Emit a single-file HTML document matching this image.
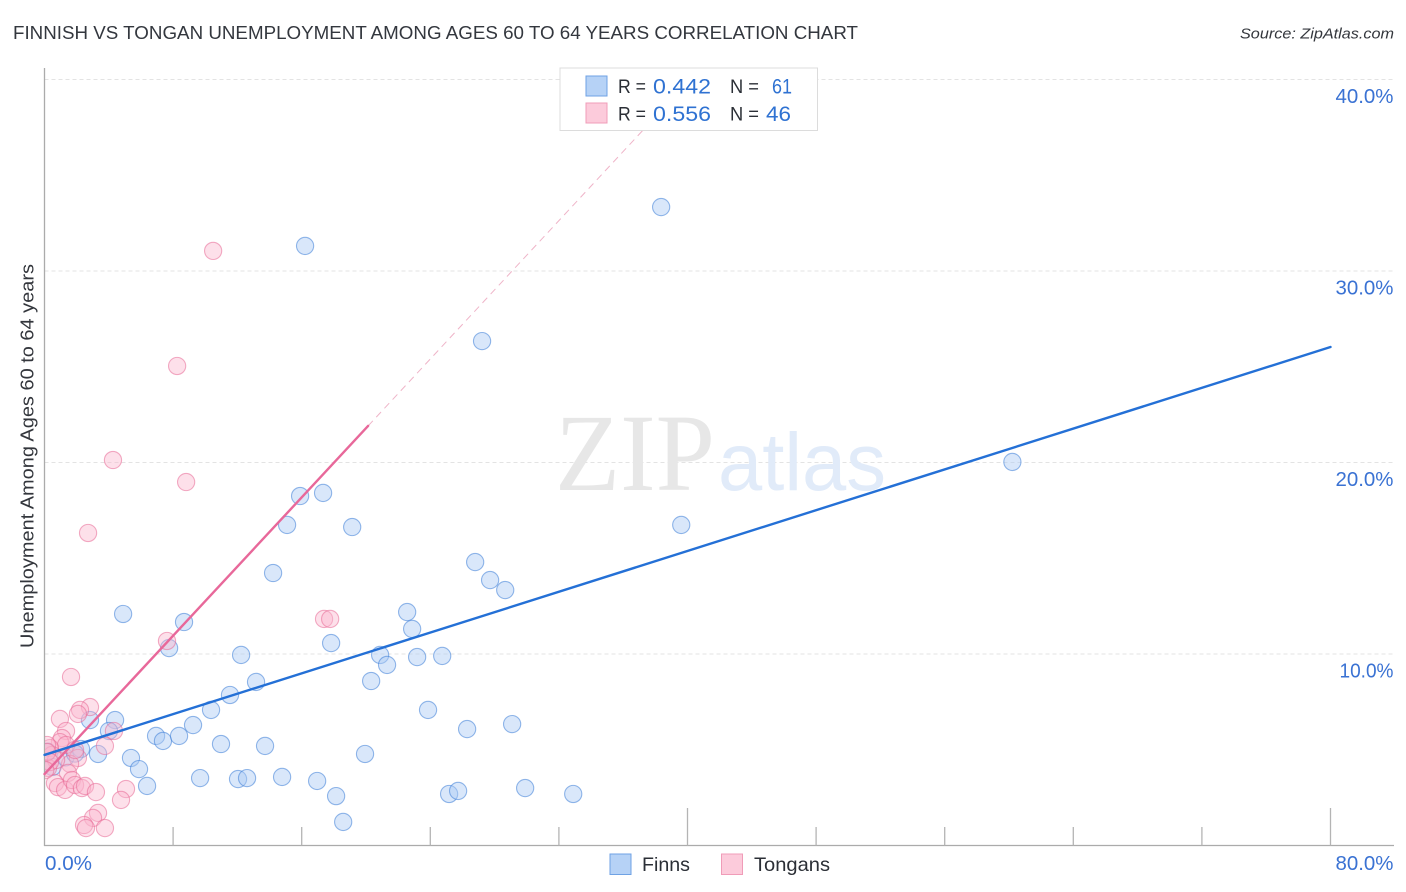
<!DOCTYPE html>
<html>
<head>
<meta charset="utf-8">
<style>
html,body{margin:0;padding:0;background:#fff;width:1406px;height:892px;overflow:hidden}
svg{display:block;font-family:"Liberation Sans",sans-serif}
</style>
</head>
<body>
<svg id="chart" width="1406" height="892" viewBox="0 0 1406 892" xmlns="http://www.w3.org/2000/svg">
  <defs><clipPath id="plot-clip"><rect x="45" y="68" width="1349" height="777"/></clipPath></defs>
  <rect x="0" y="0" width="1406" height="892" fill="#fff"/>
  <text x="13" y="39" font-size="18.5" fill="#33373e" textLength="845" lengthAdjust="spacingAndGlyphs">FINNISH VS TONGAN UNEMPLOYMENT AMONG AGES 60 TO 64 YEARS CORRELATION CHART</text>
  <text x="1394" y="38.500" font-size="15" font-style="italic" fill="#33363c" text-anchor="end" textLength="154" lengthAdjust="spacingAndGlyphs">Source: ZipAtlas.com</text>
  <g id="grid"></g>
  <g>
    <text x="555" y="490" font-family="'Liberation Serif',serif" font-size="110" fill="#e7e7e7" textLength="160" lengthAdjust="spacingAndGlyphs">ZIP</text>
    <text x="718" y="490" font-size="82" fill="#e1ebf9" textLength="168" lengthAdjust="spacingAndGlyphs">atlas</text>
  </g>
  <g id="axes"></g>
  <g id="pointsFinns" clip-path="url(#plot-clip)"></g>
  <g id="pointsTongans" clip-path="url(#plot-clip)"></g>
  <g id="trends"></g>
  <g id="ticklabels"></g>
  <text transform="translate(33.500,456) rotate(-90)" font-size="18.500" fill="#33363c" text-anchor="middle" textLength="384" lengthAdjust="spacingAndGlyphs">Unemployment Among Ages 60 to 64 years</text>

  <g>
    <rect x="560" y="68" width="257.500" height="62.500" fill="#fff" stroke="#dcdcdc" stroke-width="1"/>
    <rect x="586" y="76" width="21" height="20" fill="#b6d2f6" stroke="#6fa2e4" stroke-width="1"/>
    <rect x="586" y="103" width="21" height="20" fill="#fccbdb" stroke="#f09cb8" stroke-width="1"/>
    <text x="618" y="93" font-size="19" fill="#2b2f36" textLength="28" lengthAdjust="spacingAndGlyphs">R =</text>
    <text x="653" y="93.500" font-size="21.500" fill="#2f72d2" textLength="58" lengthAdjust="spacingAndGlyphs">0.442</text>
    <text x="730" y="93" font-size="19" fill="#2b2f36" textLength="29" lengthAdjust="spacingAndGlyphs">N =</text>
    <text x="772" y="93.500" font-size="21.500" fill="#2f72d2" textLength="20" lengthAdjust="spacingAndGlyphs">61</text>
    <text x="618" y="120.500" font-size="19" fill="#2b2f36" textLength="28" lengthAdjust="spacingAndGlyphs">R =</text>
    <text x="653" y="121" font-size="21.500" fill="#2f72d2" textLength="58" lengthAdjust="spacingAndGlyphs">0.556</text>
    <text x="730" y="120.500" font-size="19" fill="#2b2f36" textLength="29" lengthAdjust="spacingAndGlyphs">N =</text>
    <text x="766" y="121" font-size="21.500" fill="#2f72d2" textLength="25" lengthAdjust="spacingAndGlyphs">46</text>
  </g>

  <g>
    <rect x="610" y="854" width="21" height="20.500" fill="#b6d2f6" stroke="#6fa2e4" stroke-width="1"/>
    <text x="642" y="871" font-size="19.500" fill="#2b2f36" textLength="48" lengthAdjust="spacingAndGlyphs">Finns</text>
    <rect x="721.500" y="854" width="21" height="20.500" fill="#fccbdb" stroke="#f09cb8" stroke-width="1"/>
    <text x="754" y="871" font-size="19.500" fill="#2b2f36" textLength="76" lengthAdjust="spacingAndGlyphs">Tongans</text>
  </g>
</svg>
<script>
const finnsX = [38.36,16.21,27.22,60.21,39.61,15.90,17.33,15.09,19.14,14.22,26.79,27.72,28.66,4.89,22.56,22.87,8.68,17.83,7.75,12.23,20.88,21.31,23.18,24.74,13.16,20.32,11.54,10.36,23.86,29.09,26.29,9.24,2.83,4.39,4.01,6.94,7.37,8.37,10.98,13.72,19.94,2.27,3.33,5.38,5.88,6.38,9.68,12.04,12.60,14.78,16.96,18.14,18.58,25.17,25.73,29.90,32.89,0.20,0.50,1.30,1.90];
const finnsY = [33.34,31.31,26.34,20.03,16.74,18.25,18.41,16.74,16.63,14.23,14.80,13.86,13.34,12.09,12.19,11.31,11.67,10.57,10.31,9.95,9.95,9.43,9.84,9.90,8.54,8.59,7.86,7.08,7.08,6.34,6.08,6.29,6.55,6.55,5.98,5.72,5.46,5.72,5.30,5.20,4.78,5.04,4.78,4.57,3.99,3.11,3.52,3.47,3.52,3.58,3.37,2.58,1.23,2.69,2.85,3.00,2.69,4.90,4.10,4.60,4.80];
const tongansX = [10.49,8.25,4.26,8.81,2.71,17.39,17.77,7.62,1.65,2.83,0.96,2.21,2.08,4.32,3.76,1.34,1.09,0.96,1.34,0.34,0.47,0.16,0.22,2.08,1.59,1.90,0.72,1.46,0.65,0.84,1.28,1.71,1.90,2.33,2.52,3.20,5.07,4.76,3.33,3.02,2.46,2.58,3.76,0.16,0.34,0.05];
const tongansY = [31.05,25.04,20.13,18.98,16.32,11.83,11.83,10.68,8.80,7.23,6.61,7.08,6.87,5.98,5.20,5.98,5.61,5.40,5.25,5.09,4.73,5.25,4.05,4.57,4.26,4.99,4.46,3.79,3.26,3.05,2.90,3.42,3.16,3.00,3.11,2.79,2.95,2.38,1.70,1.44,1.07,0.91,0.91,4.88,4.36,3.94];
const finnsTrendX = [0,80];
const finnsTrendY = [4.73,26.03];
const tongansTrendX = [0,20.13];
const tongansTrendY = [3.73,21.91];
const tongansDashEndX = [40];
const yTicks = [10,20,30,40];
const yTickLabels = ["10.0%","20.0%","30.0%","40.0%"];
const xTicks = [8,16,24,32,40,48,56,64,72,80];
const xMajorTicks = [40,80];
const xEndLabels = ["0.0%","80.0%"];

const NS = "http://www.w3.org/2000/svg";
const sx = v => 44.5 + v * (1330.5 - 44.5) / 80;
const sy = v => 845.5 - v * 19.15;

function make(parent, tag, attrs) {
  const el = document.createElementNS(NS, tag);
  Object.keys(attrs).forEach(k => el.setAttribute(k, attrs[k]));
  document.getElementById(parent).appendChild(el);
  return el;
}

yTicks.forEach(t => {
  const el = make("grid", "line", {x1: 44.5, x2: 1394, y1: sy(t), y2: sy(t), stroke: "#e3e3e3", "stroke-width": 1, "stroke-dasharray": "4 3"});
  
  
});

const yAxis = make("axes", "line", {x1: 44.5, x2: 44.5, y1: 68, y2: 846, stroke: "#ababab", "stroke-width": 1.3});


const xAxis = make("axes", "line", {x1: 44, x2: 1394, y1: 845.5, y2: 845.5, stroke: "#ababab", "stroke-width": 1.3});



xTicks.forEach(t => {
  const top = xMajorTicks.includes(t) ? 808 : 827;
  const el = make("axes", "line", {x1: sx(t), x2: sx(t), y1: top, y2: 845.5, stroke: "#b4b4b4", "stroke-width": 1.3});
  
  
});

yTicks.forEach((t, i) => {
  const el = make("ticklabels", "text", {x: 1393.5, y: sy(t) + 23.5, "font-size": 20.5, fill: "#3a72d3", "text-anchor": "end", textLength: yTickLabels[i].charAt(0) === "1" ? 54 : 58, lengthAdjust: "spacingAndGlyphs"});
  
  
  el.textContent = yTickLabels[i];
});

const x0Label = make("ticklabels", "text", {x: 45, y: 870, "font-size": 20.5, fill: "#3a72d3", textLength: 47, lengthAdjust: "spacingAndGlyphs"});


x0Label.textContent = xEndLabels[0];
const x1Label = make("ticklabels", "text", {x: 1393.5, y: 870, "font-size": 20.5, fill: "#3a72d3", "text-anchor": "end", textLength: 58, lengthAdjust: "spacingAndGlyphs"});


x1Label.textContent = xEndLabels[1];

finnsX.forEach((v, i) => {
  const el = make("pointsFinns", "circle", {cx: sx(v), cy: sy(finnsY[i]), r: 8.6, fill: "rgba(170,202,243,0.45)", stroke: "rgba(60,125,215,0.55)", "stroke-width": 1.1});
  
  
});
tongansX.forEach((v, i) => {
  const el = make("pointsTongans", "circle", {cx: sx(v), cy: sy(tongansY[i]), r: 8.6, fill: "rgba(250,182,204,0.42)", stroke: "rgba(232,105,150,0.55)", "stroke-width": 1.1});
  
  
});

const pinkSlope = (tongansTrendY[1] - tongansTrendY[0]) / (tongansTrendX[1] - tongansTrendX[0]);
const dashEndY = tongansTrendY[0] + pinkSlope * tongansDashEndX[0];
const dash = make("trends", "line", {x1: sx(tongansTrendX[1]), y1: sy(tongansTrendY[1]), x2: sx(tongansDashEndX[0]), y2: sy(dashEndY), stroke: "#efb4c8", "stroke-width": 1, "stroke-dasharray": "7 5"});


const pinkLine = make("trends", "line", {x1: sx(tongansTrendX[0]), y1: sy(tongansTrendY[0]), x2: sx(tongansTrendX[1]), y2: sy(tongansTrendY[1]), stroke: "#e8689a", "stroke-width": 2.4, "stroke-linecap": "round"});


const blueLine = make("trends", "line", {x1: sx(finnsTrendX[0]), y1: sy(finnsTrendY[0]), x2: sx(finnsTrendX[1]), y2: sy(finnsTrendY[1]), stroke: "#2470d6", "stroke-width": 2.4, "stroke-linecap": "round"});


</script>
</body>
</html>
